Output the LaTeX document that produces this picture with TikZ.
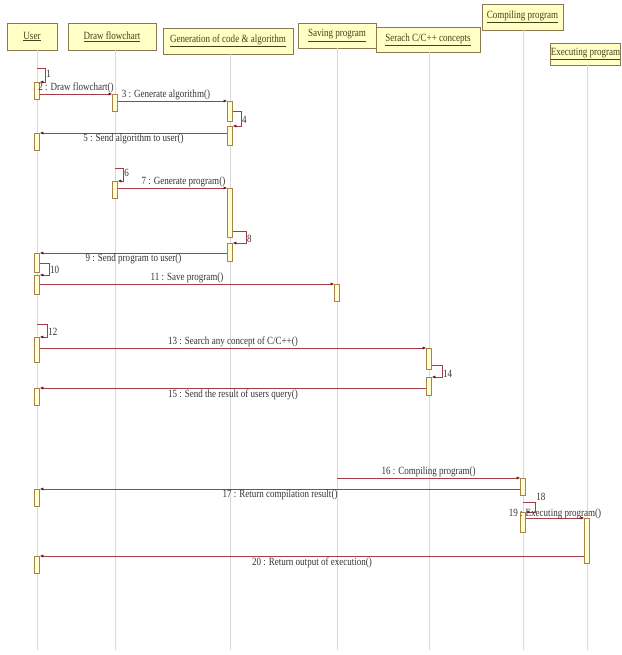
\documentclass[tikz,border=0pt]{standalone}
\usepackage{fontspec}
\setmainfont{Liberation Serif}[FakeStretch=0.82]
\usetikzlibrary{arrows.meta}
\definecolor{headfill}{RGB}{255,255,198}
\definecolor{headline}{RGB}{140,120,80}
\definecolor{headtext}{RGB}{70,65,25}
\definecolor{actfill}{RGB}{255,255,210}
\definecolor{actline}{RGB}{170,130,70}
\definecolor{msgline}{RGB}{165,60,70}
\definecolor{tipdark}{RGB}{90,20,25}
\definecolor{lbltext}{RGB}{55,50,50}

\begin{document}
\begin{tikzpicture}[
  x=1pt, y=-1pt,
  head/.style={draw=headline, fill=headfill, inner sep=0pt, line width=0.8pt,
    text=headtext, font=\fontsize{11}{12}\selectfont},
  lifeline/.style={draw=gray!30, line width=0.6pt},
  act/.style={draw=actline, fill=actfill, minimum width=5pt, inner sep=0pt,
    line width=0.6pt, anchor=north},
  msg/.style={draw=msgline, line width=0.6pt,
    -{Latex[length=3.5pt, width=3pt, color=tipdark]}},
  lbl/.style={text=lbltext, font=\fontsize{11}{12}\selectfont, inner sep=1pt},
  num/.style={text=lbltext, font=\fontsize{11}{12}\selectfont, inner sep=1pt}
]
\useasboundingbox (0,0) rectangle (621,655);

% === Headers ===
\node[head, minimum width=50pt, minimum height=27pt] (U) at (32,36.5) {\underline{User}};
\node[head, minimum width=88pt, minimum height=27pt] (D) at (112,36.5) {\underline{Draw flowchart}};
\node[head, minimum width=130pt, minimum height=26pt] (G) at (228,41) {\underline{Generation of code \& algorithm}};
\node[head, minimum width=78pt, minimum height=25pt] (Sv) at (337,35.5) {\underline{Saving program}};
\node[head, minimum width=104pt, minimum height=25pt] (Sr) at (428,39.5) {\underline{Serach C/C++ concepts}};
\node[head, minimum width=81pt, minimum height=26pt] (C) at (522.5,17) {\underline{Compiling program}};
\node[head, minimum width=70pt, minimum height=22pt] (E) at (585.5,54) {\underline{Executing program}};

% === Lifelines ===
\coordinate (Ub) at (37,650);
\coordinate (Db) at (115,650);
\coordinate (Gb) at (230,650);
\coordinate (Svb) at (337,650);
\coordinate (Srb) at (429,650);
\coordinate (Cb) at (523,650);
\coordinate (Eb) at (587,650);
\draw[lifeline] (U.south -| Ub) -- (Ub);
\draw[lifeline] (D.south -| Db) -- (Db);
\draw[lifeline] (G.south -| Gb) -- (Gb);
\draw[lifeline] (Sv.south -| Svb) -- (Svb);
\draw[lifeline] (Sr.south -| Srb) -- (Srb);
\draw[lifeline] (C.south -| Cb) -- (Cb);
\draw[lifeline] (E.south -| Eb) -- (Eb);

% === Activations ===
% User
\node[act, minimum height=17pt] (u1) at (37,82) {};
\node[act, minimum height=17pt] (u2) at (37,133) {};
\node[act, minimum height=19pt] (u3) at (37,253) {};
\node[act, minimum height=19pt] (u4) at (37,275) {};
\node[act, minimum height=25pt] (u5) at (37,337) {};
\node[act, minimum height=17pt] (u6) at (37,388) {};
\node[act, minimum height=17pt] (u7) at (37,489) {};
\node[act, minimum height=17pt] (u8) at (37,556) {};
% Draw flowchart
\node[act, minimum height=17pt] (d1) at (115,94) {};
\node[act, minimum height=17pt] (d2) at (115,181) {};
% Generation of code
\node[act, minimum height=20pt] (g1) at (230,101) {};
\node[act, minimum height=19pt] (g2) at (230,126) {};
\node[act, minimum height=49pt] (g3) at (230,188) {};
\node[act, minimum height=18pt] (g4) at (230,243) {};
% Saving, searching, compiling, executing
\node[act, minimum height=17pt] (s1) at (337,284) {};
\node[act, minimum height=21pt] (r1) at (429,348) {};
\node[act, minimum height=18pt] (r2) at (429,377) {};
\node[act, minimum height=17pt] (c1) at (523,478) {};
\node[act, minimum height=20pt] (c2) at (523,512) {};
\node[act, minimum height=45pt] (e1) at (587,518) {};

% === Self messages ===
\coordinate (l1) at (37,68);
\coordinate (l6) at (115,168);
\coordinate (l12) at (37,324);
\coordinate (l18) at (523,502);
\draw[msg] (l1) -- ++(8,0) |- node[num, pos=0.2, right] {1} (u1.north east);
\draw[msg] (g1.east) -- ++(8,0) |- node[num, pos=0.3, right] {4} (g2.north east);
\draw[msg] (l6) -- ++(8,0) |- node[num, pos=0.2, right] {6} (d2.north east);
\draw[msg] ([yshift=6pt]g3.south east) -- ++(13,0) |- node[num, pos=0.3, right] {8} (g4.north east);
\draw[msg] (u3.east) -- ++(9,0) |- node[num, pos=0.3, right] {10} (u4.north east);
\draw[msg] (l12) -- ++(10,0) |- node[num, pos=0.3, right] {12} (u5.north east);
\draw[msg] ([yshift=4pt]r1.south east) -- ++(10,0) |- node[num, pos=0.35, right] {14} (r2.north east);
\draw[msg] (l18) -- ++(12,0) node[num, anchor=south west] {18} |- (c2.north east);

% === Messages ===
\draw[msg] (u1.east |- d1.north) -- node[lbl, above] {2 : Draw flowchart()} (d1.north west);
\draw[msg] (d1.east |- g1.north) -- node[lbl, above, pos=0.44] {3 : Generate algorithm()} (g1.north west);
\draw[msg] (g2.west |- u2.north) -- node[lbl, below] {5 : Send algorithm to user()} (u2.north east);
\draw[msg] (d2.east |- g3.north) -- node[lbl, above, pos=0.6] {7 : Generate program()} (g3.north west);
\draw[msg] (g4.west |- u3.north) -- node[lbl, below] {9 : Send program to user()} (u3.north east);
\draw[msg] (u4.east |- s1.north) -- node[lbl, above] {11 : Save program()} (s1.north west);
\draw[msg] (u5.east |- r1.north) -- node[lbl, above] {13 : Search any concept of C/C++()} (r1.north west);
\draw[msg] (r2.west |- u6.north) -- node[lbl, below] {15 : Send the result of users query()} (u6.north east);
\draw[msg] (Sv |- c1.north) -- node[lbl, above] {16 : Compiling program()} (c1.north west);
\draw[msg] (c1.west |- u7.north) -- node[lbl, below] {17 : Return compilation result()} (u7.north east);
\draw[msg] (c2.east |- e1.north) -- node[lbl, pos=0.5, yshift=4pt] {19 : Executing program()} (e1.north west);
\draw[msg] (e1.west |- u8.north) -- node[lbl, below] {20 : Return output of execution()} (u8.north east);

\end{tikzpicture}
\end{document}
